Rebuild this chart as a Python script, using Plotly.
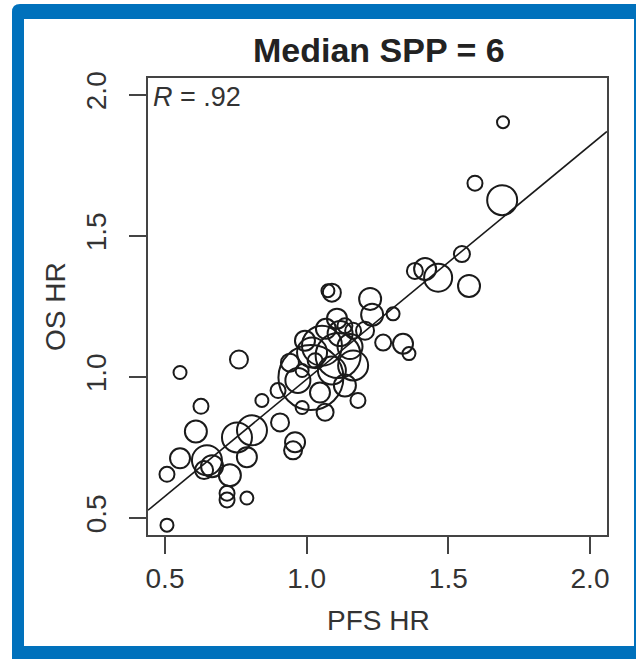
import plotly.graph_objects as go
import numpy as np

# ---- data ----
pfs_hr = [0.507, 0.507, 0.553, 0.609, 0.627, 0.553, 0.761, 0.648, 0.666, 0.638,
          0.729, 0.719, 0.719, 0.789, 0.754, 0.789, 0.807, 0.842, 0.899, 0.906,
          0.959, 0.952, 0.984, 1.065, 1.181, 0.984, 1.015, 1.075, 1.089, 1.107,
          1.164, 1.224, 1.231, 1.305, 1.270, 1.340, 1.361, 1.382, 1.418, 1.464,
          1.573, 1.548, 1.594, 1.690, 1.693,
          1.054, 1.111, 1.164, 1.118, 1.068, 1.135, 1.047, 0.969, 0.941, 1.153,
          1.019, 1.089, 0.994, 1.030, 1.135, 1.206]
os_hr = [0.475, 0.655, 0.712, 0.807, 0.896, 1.016, 1.062, 0.705, 0.684, 0.670,
         0.652, 0.588, 0.564, 0.571, 0.786, 0.716, 0.811, 0.917, 0.952, 0.839,
         0.769, 0.740, 0.892, 0.875, 0.917, 1.023, 0.998, 1.306, 1.299, 1.207,
         1.164, 1.277, 1.221, 1.224, 1.122, 1.118, 1.083, 1.376, 1.383, 1.352,
         1.323, 1.436, 1.687, 1.627, 1.903,
         1.111, 1.076, 1.041, 1.154, 1.171, 0.970, 0.945, 0.988, 1.051, 1.108,
         1.087, 1.023, 1.129, 1.058, 1.182, 1.164]
# relative trial weight (circle size)
weight = [13, 15, 20, 22, 15, 13, 18, 30, 22, 18,
          22, 15, 15, 13, 30, 20, 30, 13, 15, 18,
          20, 18, 13, 17, 15, 13, 65, 13, 18, 20,
          16, 22, 22, 13, 16, 20, 13, 16, 22, 28,
          22, 16, 15, 30, 12,
          40, 45, 30, 25, 20, 22, 20, 25, 18, 25,
          30, 28, 20, 15, 15, 18]
fit_coef = [0.163, 0.829]  # intercept, slope of OS HR on PFS HR
r_label = ".92"
title_text = "Median SPP = 6"
x_title = "PFS HR"
y_title = "OS HR"
tick_vals = [0.5, 1.0, 1.5, 2.0]
tick_text = ["0.5", "1.0", "1.5", "2.0"]
axis_range = [0.44, 2.06]

# ---- figure ----
W, H = 636, 661
L, R, T, B = 148, 29, 78, 126
pw, ph = W - L - R, H - T - B

def px2paper_x(px):
    return (px - L) / pw

def py2paper_y(py):
    return (H - B - py) / ph

ink = "#1a1a1a"
font = "Liberation Sans, Arial, Helvetica, sans-serif"

fig = go.Figure()

xl = np.array(axis_range)
fig.add_trace(go.Scatter(
    x=xl, y=fit_coef[0] + fit_coef[1] * xl, mode="lines",
    line=dict(color=ink, width=1.6), hoverinfo="skip", showlegend=False))

fig.add_trace(go.Scatter(
    x=pfs_hr, y=os_hr, mode="markers",
    marker=dict(symbol="circle-open", size=weight, opacity=1,
                line=dict(color=ink, width=2), color=ink),
    showlegend=False))

axis_common = dict(
    range=axis_range, tickvals=tick_vals, ticktext=tick_text,
    showgrid=False, zeroline=False, showline=True, mirror=True,
    linecolor="#444", linewidth=2, ticks="outside", ticklen=17,
    tickwidth=1.5, tickcolor="#444",
    tickfont=dict(family=font, size=28, color="#333"),
)
fig.update_xaxes(**axis_common)
fig.update_yaxes(**axis_common, tickangle=-90, ticklabelstandoff=12)

# blue frame
blue = "#0071BC"
x0o, x1o = px2paper_x(12), px2paper_x(650)
y0o, y1o = py2paper_y(659), py2paper_y(4)
rx = 8 / pw
ry = 8 / ph
outer_path = ("M {a},{b} L {c},{b} L {c},{d} L {e},{d} Q {a},{d} {a},{f} Z"
              .format(a=x0o, b=y0o, c=x1o, d=y1o, e=x0o + rx, f=y1o - ry))
shapes = [
    dict(type="path", xref="paper", yref="paper", layer="below",
         path=outer_path, fillcolor=blue, line=dict(width=0)),
    dict(type="rect", xref="paper", yref="paper", layer="below",
         x0=px2paper_x(24), x1=px2paper_x(634), y0=py2paper_y(646), y1=py2paper_y(19),
         fillcolor="white", line=dict(width=0)),
]

annotations = [
    dict(text="<b>%s</b>" % title_text, xref="paper", yref="paper",
         x=px2paper_x(379), y=py2paper_y(50), xanchor="center", yanchor="middle",
         showarrow=False, font=dict(family=font, size=34, color="#222")),
    dict(text=x_title, xref="paper", yref="paper",
         x=px2paper_x(378), y=py2paper_y(620), xanchor="center", yanchor="middle",
         showarrow=False, font=dict(family=font, size=28, color="#333")),
    dict(text=y_title, xref="paper", yref="paper", textangle=-90,
         x=px2paper_x(55), y=py2paper_y(307), xanchor="center", yanchor="middle",
         showarrow=False, font=dict(family=font, size=28, color="#333")),
    dict(text="<i>R</i> = " + r_label, xref="paper", yref="paper",
         x=px2paper_x(151), y=py2paper_y(97), xanchor="left", yanchor="middle",
         showarrow=False, font=dict(family=font, size=27, color="#333")),
]

fig.update_layout(
    width=W, height=H, autosize=False,
    margin=dict(l=L, r=R, t=T, b=B, pad=0),
    paper_bgcolor="white", plot_bgcolor="rgba(0,0,0,0)",
    shapes=shapes, annotations=annotations,
    font=dict(family=font, color="#333"),
)

fig.write_html("out.html")
